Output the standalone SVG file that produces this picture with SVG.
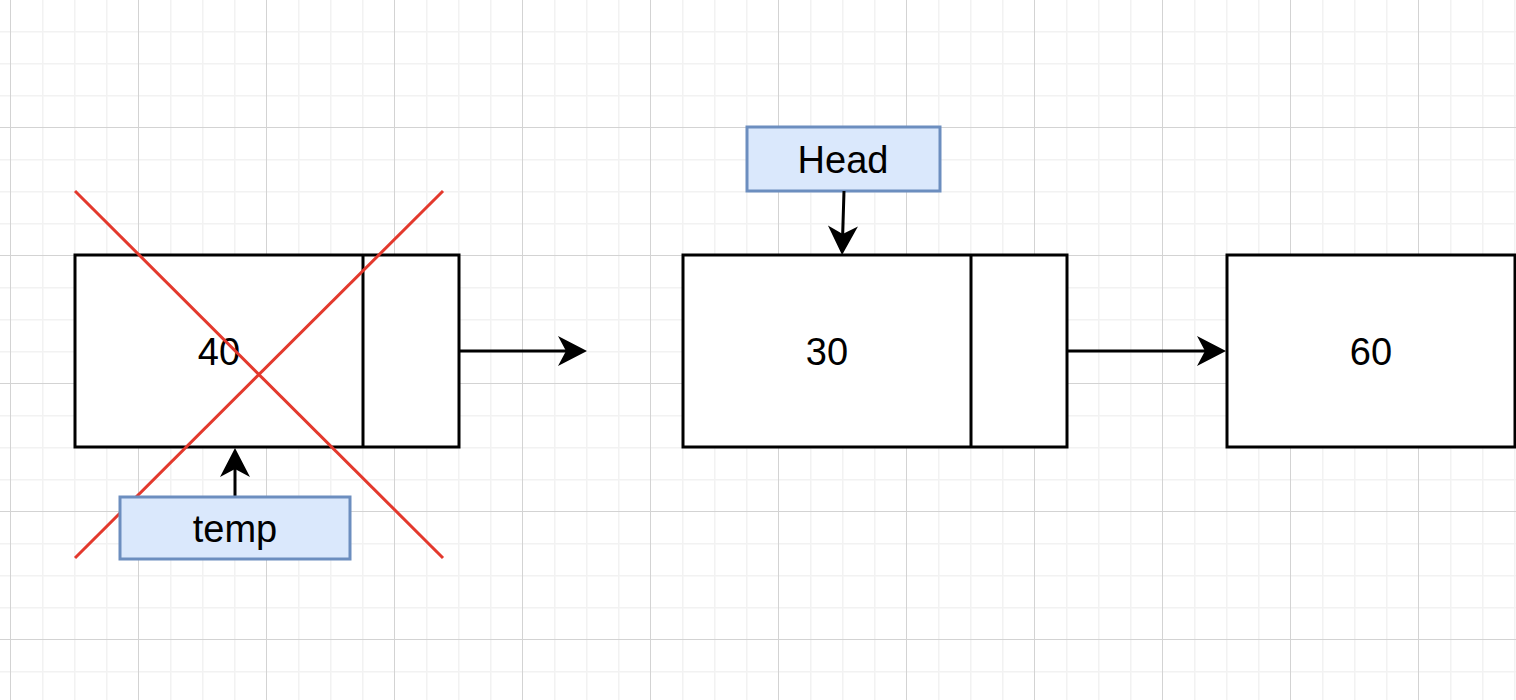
<svg xmlns="http://www.w3.org/2000/svg" width="1516" height="700" viewBox="0 0 1516 700">
  <defs>
    <pattern id="grid" patternUnits="userSpaceOnUse" x="10" y="-1" width="128" height="128">
      <rect x="32" y="0" width="1.5" height="128" fill="#f2f2f2"/>
      <rect x="64" y="0" width="1.5" height="128" fill="#f2f2f2"/>
      <rect x="96" y="0" width="1.5" height="128" fill="#f2f2f2"/>
      <rect x="0" y="32" width="128" height="1.5" fill="#f2f2f2"/>
      <rect x="0" y="64" width="128" height="1.5" fill="#f2f2f2"/>
      <rect x="0" y="96" width="128" height="1.5" fill="#f2f2f2"/>
      <rect x="0" y="0" width="1" height="128" fill="#d3d3d3"/>
      <rect x="0" y="0" width="128" height="1" fill="#d3d3d3"/>
    </pattern>
    <marker id="arrow" markerUnits="userSpaceOnUse" markerWidth="30" markerHeight="30" refX="8" refY="15" orient="auto" overflow="visible">
      <path d="M0,0 L29,15 L0,30 L8,15 Z" fill="#000"/>
    </marker>
  </defs>
  <style>
    .box { fill: #ffffff; stroke: #000000; stroke-width: 3; }
    .divider { stroke: #000000; stroke-width: 3; }
    .label { fill: #dae8fc; stroke: #6c8ebf; stroke-width: 3; }
    .txt { font-family: "Liberation Sans", Arial, sans-serif; font-size: 38px; fill: #000; text-anchor: middle; dominant-baseline: central; }
    .edge { stroke: #000; stroke-width: 3; fill: none; marker-end: url(#arrow); }
    .cross { stroke: #e3392d; stroke-width: 3; }
  </style>

  <rect width="1516" height="700" fill="#ffffff"/>
  <rect width="1516" height="700" fill="url(#grid)"/>

  <!-- list node holding 40 (removed) -->
  <g id="node40">
    <rect class="box" x="75" y="255" width="384" height="192"/>
    <line class="divider" x1="363" y1="255" x2="363" y2="447"/>
    <text class="txt" x="219" y="352">40</text>
  </g>

  <!-- list node holding 30 -->
  <g id="node30">
    <rect class="box" x="683" y="255" width="384" height="192"/>
    <line class="divider" x1="971" y1="255" x2="971" y2="447"/>
    <text class="txt" x="827" y="352">30</text>
  </g>

  <!-- list node holding 60 -->
  <g id="node60">
    <rect class="box" x="1227" y="255" width="288" height="192"/>
    <text class="txt" x="1371" y="352">60</text>
  </g>

  <!-- pointer labels -->
  <g id="head">
    <rect class="label" x="747" y="127" width="193" height="64"/>
    <text class="txt" x="843" y="160">Head</text>
  </g>

  <!-- connectors -->
  <g id="connectors">
    <line class="edge" x1="459" y1="351" x2="566" y2="351"/>
    <line class="edge" x1="1067" y1="351" x2="1205" y2="351"/>
    <line class="edge" x1="844" y1="191" x2="842.7" y2="234"/>
    <line class="edge" x1="235" y1="497" x2="235" y2="469"/>
  </g>

  <!-- strike-through over the removed node -->
  <g id="cross">
    <line class="cross" x1="75" y1="191" x2="443" y2="558"/>
    <line class="cross" x1="75" y1="558" x2="443" y2="191"/>
  </g>

  <g id="temp">
    <rect class="label" x="120" y="497" width="230" height="62"/>
    <text class="txt" x="235" y="529">temp</text>
  </g>
</svg>
